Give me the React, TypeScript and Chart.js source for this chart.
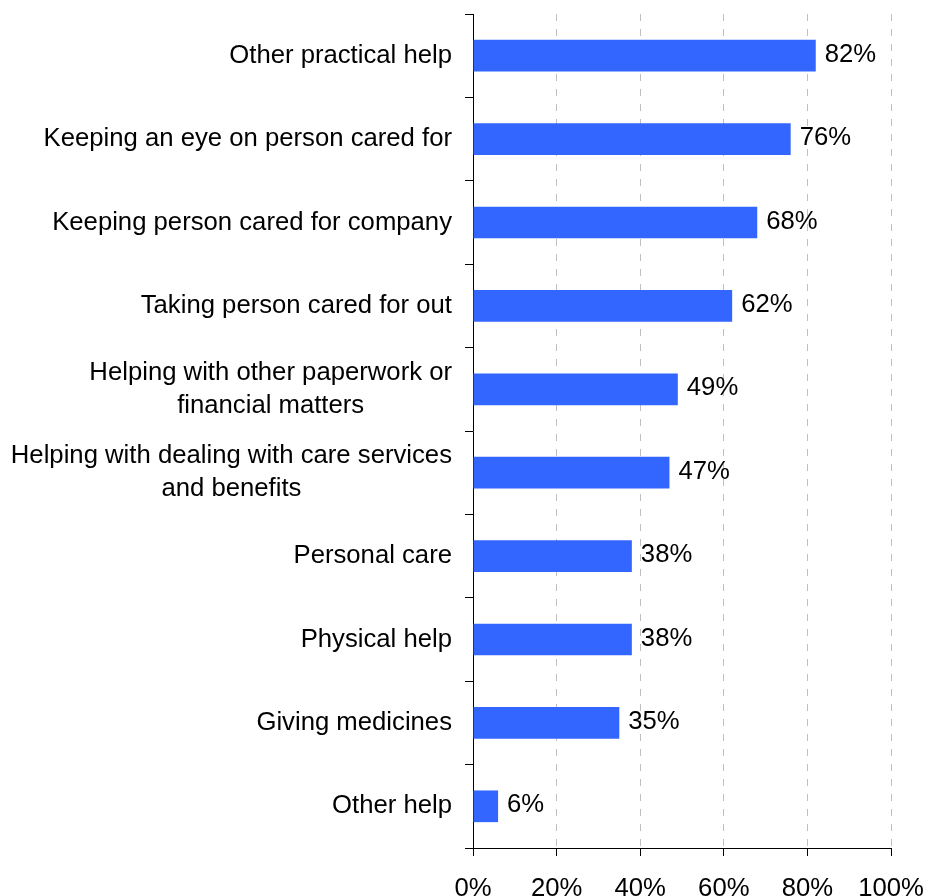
import React, { useEffect, useRef } from 'react';
import { Chart, registerables } from 'chart.js';

Chart.register(...registerables);

const categories: string[][] = [
  ['Other practical help'],
  ['Keeping an eye on person cared for'],
  ['Keeping person cared for company'],
  ['Taking person cared for out'],
  ['Helping with other paperwork or', 'financial matters'],
  ['Helping with dealing with care services', 'and benefits'],
  ['Personal care'],
  ['Physical help'],
  ['Giving medicines'],
  ['Other help'],
];
const values: number[] = [82, 76, 68, 62, 49, 47, 38, 38, 35, 6];
const xTicks: number[] = [0, 20, 40, 60, 80, 100];

const FONT_FAMILY = '"Liberation Sans", Arial, sans-serif';
const FONT_SIZE = 25.7;
const FONT = `${FONT_SIZE}px ${FONT_FAMILY}`;
const LINE_H = 33;

const labelPlugin = {
  id: 'customLabels',
  afterDraw(chart: any) {
    const ctx = chart.ctx as CanvasRenderingContext2D;
    const yScale = chart.scales.y;
    const xRight = yScale.right - 8 - 13;
    ctx.save();
    ctx.font = FONT;
    ctx.fillStyle = '#000000';
    ctx.textBaseline = 'middle';
    categories.forEach((lines, i) => {
      const cy = yScale.getPixelForValue(i);
      if (lines.length === 1) {
        ctx.textAlign = 'right';
        ctx.fillText(lines[0], xRight, cy);
      } else {
        const w = Math.max(...lines.map((l) => ctx.measureText(l).width));
        const cx = xRight - w / 2;
        ctx.textAlign = 'center';
        lines.forEach((l, j) => {
          ctx.fillText(l, cx, cy + (j - (lines.length - 1) / 2) * LINE_H);
        });
      }
    });
    const meta = chart.getDatasetMeta(0);
    ctx.textAlign = 'left';
    meta.data.forEach((bar: any, i: number) => {
      ctx.fillText(values[i] + '%', bar.x + 9, bar.y - 1);
    });
    ctx.restore();
  },
};

export default function App() {
  const canvasRef = useRef<HTMLCanvasElement | null>(null);

  useEffect(() => {
    document.body.style.margin = '0';
    const canvas = canvasRef.current;
    if (!canvas) return;
    const chart = new Chart(canvas, {
      type: 'bar',
      data: {
        labels: categories.map((c) => c.join(' ')),
        datasets: [
          {
            data: values,
            backgroundColor: '#3366FF',
            borderWidth: 0,
            barPercentage: 0.38,
            categoryPercentage: 1,
          },
        ],
      },
      options: {
        indexAxis: 'y',
        animation: false,
        responsive: false,
        maintainAspectRatio: false,
        layout: { padding: { top: 14, right: 34, left: 0, bottom: 0 } },
        plugins: {
          legend: { display: false },
          tooltip: { enabled: false },
        },
        scales: {
          x: {
            min: 0,
            max: 100,
            afterBuildTicks: (scale: any) => {
              scale.ticks = xTicks.map((v) => ({ value: v }));
            },
            afterFit: (scale: any) => {
              scale.height = 48;
              scale.paddingLeft = 0;
              scale.paddingRight = 0;
            },
            ticks: {
              callback: (v: any) => v + '%',
              font: { family: FONT_FAMILY, size: FONT_SIZE },
              color: '#000000',
              padding: 17,
              maxRotation: 0,
              autoSkip: false,
            },
            grid: {
              color: '#BFBFBF',
              lineWidth: 1,
              drawTicks: true,
              tickLength: 8,
              tickColor: '#000000',
              tickBorderDash: [],
              tickWidth: 1,
            } as any,
            border: { display: true, color: '#000000', width: 1, dash: [7, 8] },
          },
          y: {
            afterFit: (scale: any) => {
              scale.width = 473;
            },
            ticks: { display: false },
            grid: {
              offset: true,
              drawOnChartArea: false,
              drawTicks: true,
              tickLength: 8,
              tickColor: '#000000',
              tickWidth: 1,
            },
            border: { display: true, color: '#000000', width: 1 },
          },
        },
      },
      plugins: [labelPlugin],
    });
    return () => chart.destroy();
  }, []);

  return (
    <div style={{ position: 'absolute', left: 0, top: 0, width: 925, height: 896, background: '#ffffff' }}>
      <canvas ref={canvasRef} width={925} height={896} style={{ width: 925, height: 896, display: 'block' }} />
    </div>
  );
}
